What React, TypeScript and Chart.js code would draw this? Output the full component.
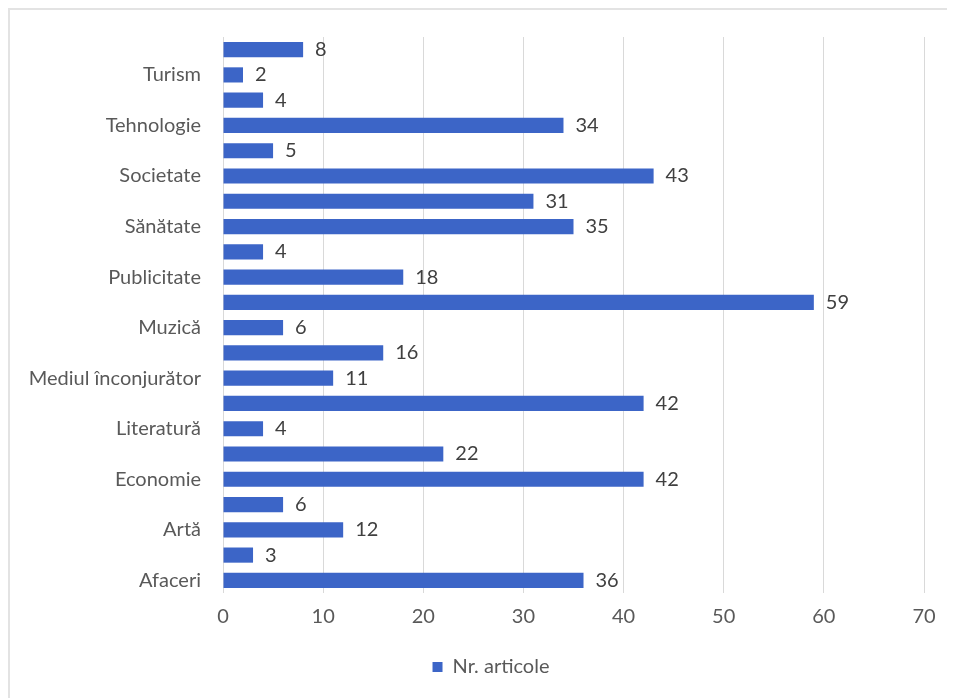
import React, { useEffect, useRef } from "react";
import { Chart, registerables } from "chart.js";

Chart.register(...registerables);

const categories = [
  "Afaceri", "Agricultură", "Artă", "Divertisment", "Economie", "Educație",
  "Literatură", "Media", "Mediul înconjurător", "Modă", "Muzică", "Politică",
  "Publicitate", "Religie", "Sănătate", "Social", "Societate", "Sport",
  "Tehnologie", "Transport", "Turism", "Vreme",
];
const values = [36, 3, 12, 6, 42, 22, 4, 42, 11, 16, 6, 59, 18, 4, 35, 31, 43, 5, 34, 4, 2, 8];
const seriesName = "Nr. articole";
const xTicks = { min: 0, max: 70, step: 10 };

const FONT = "Lato, 'Open Sans', sans-serif";
const TEXT = "#595959";
const BAR = "#3c65c7";

const valueLabels = {
  id: "valueLabels",
  afterDatasetsDraw(chart: any) {
    const ctx = chart.ctx;
    const meta = chart.getDatasetMeta(0);
    ctx.save();
    ctx.font = `20px ${FONT}`;
    ctx.fillStyle = "#404040";
    ctx.textAlign = "left";
    ctx.textBaseline = "middle";
    meta.data.forEach((bar: any, i: number) => {
      ctx.fillText(String(chart.data.datasets[0].data[i]), bar.x + 12, bar.y);
    });
    ctx.restore();
  },
};

const shiftLegend = {
  id: "shiftLegend",
  afterLayout(chart: any) {
    if (chart.legend) {
      chart.legend.left += 24;
      chart.legend.right += 24;
    }
  },
};

export default function App() {
  const ref = useRef<HTMLCanvasElement>(null);
  useEffect(() => {
    document.body.style.overflow = "hidden";
    const chart = new Chart(ref.current!, {
      type: "bar",
      data: {
        labels: categories,
        datasets: [
          {
            label: seriesName,
            data: values,
            backgroundColor: BAR,
            borderWidth: 0,
            categoryPercentage: 0.6,
            barPercentage: 1,
          },
        ],
      },
      options: {
        indexAxis: "y",
        animation: false,
        responsive: false,
        layout: { padding: { top: 27, right: 31, bottom: 11, left: 0 } },
        plugins: {
          tooltip: { enabled: false },
          legend: {
            position: "bottom",
            labels: {
              font: { family: FONT, size: 20 },
              color: TEXT,
              boxWidth: 10,
              boxHeight: 10,
              padding: 16,
            },
          },
        },
        scales: {
          x: {
            min: xTicks.min,
            max: xTicks.max,
            ticks: {
              stepSize: xTicks.step,
              font: { family: FONT, size: 20 },
              color: TEXT,
              padding: 12,
            },
            grid: { color: "#d9d9d9", drawTicks: false },
            border: { display: false },
          },
          y: {
            reverse: true,
            afterFit: (s: any) => {
              s.width = 213;
              s.paddingTop = 0;
              s.paddingBottom = 0;
            },
            ticks: {
              autoSkip: false,
              font: { family: FONT, size: 20 },
              color: TEXT,
              padding: 22,
              callback: (_v: any, i: number) => (i % 2 === 0 ? categories[i] : ""),
            },
            grid: { display: false, drawTicks: false },
            border: { display: false },
          },
        },
      },
      plugins: [valueLabels, shiftLegend],
    });
    return () => chart.destroy();
  }, []);
  return (
    <div
      style={{
        width: 947,
        height: 690,
        borderTop: "2px solid #e3e3e3",
        borderLeft: "2px solid #e3e3e3",
        boxSizing: "border-box",
        overflow: "hidden",
      }}
    >
      <canvas ref={ref} width={945} height={688} style={{ display: "block" }} />
    </div>
  );
}
